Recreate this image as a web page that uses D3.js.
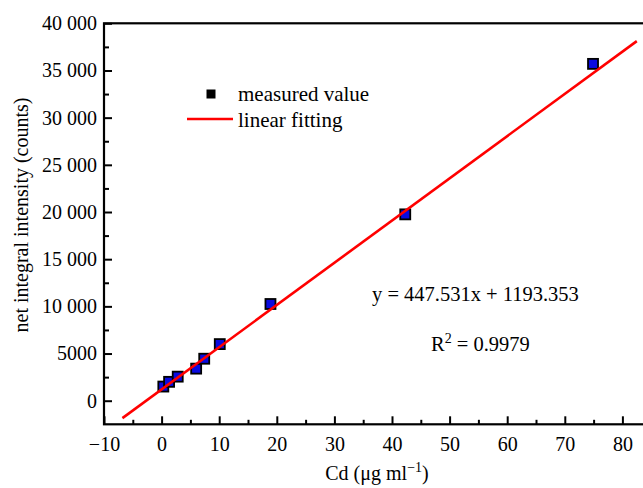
<!DOCTYPE html>
<html lang="en">
  <head>
    <meta charset="UTF-8" />
    <title>Cd calibration</title>
    <script src="https://d3js.org/d3.v7.min.js"></script>
    <style>
      body {
        margin: 0;
        padding: 0;
        background: #fff;
      }
      svg {
        display: block;
        font-family: "Liberation Serif", "DejaVu Serif", serif;
      }
    </style>
  </head>
  <body>
    <svg width="643" height="488"></svg>
    <script>
      // measured points (Cd concentration, counts)
      const concentration = [0.3, 1.3, 2.8, 6.0, 7.4, 10.1, 18.9, 42.3, 74.9];
      const intensity = [1500, 2000, 2550, 3400, 4450, 6000, 10250, 19750, 35700];

      // fitted line
      const slope = 447.531;
      const intercept = 1193.353;
      const fitRange = [-6.8, 82.5];

      const xTicks = [-10, 0, 10, 20, 30, 40, 50, 60, 70, 80];
      const yTicks = [0, 5000, 10000, 15000, 20000, 25000, 30000, 35000, 40000];

      const margin = { top: 23.3, left: 104, bottom: 424.3, right: 680 };

      const svg = d3.select("svg");
      svg.append("rect").attr("width", 643).attr("height", 488).attr("fill", "#fff");

      const x = d3.scaleLinear().domain([-10, 90]).range([margin.left, margin.right]);
      const y = d3.scaleLinear().domain([-2500, 40000]).range([margin.bottom, margin.top]);

      const fmtY = (d) => {
        if (d < 10000) return String(d);
        const s = String(d);
        return s.slice(0, s.length - 3) + " " + s.slice(-3);
      };
      const fmtX = (d) => (d < 0 ? "\u2212" + Math.abs(d) : String(d));

      // minor ticks
      svg
        .append("g")
        .attr("transform", `translate(0,${margin.bottom})`)
        .call(
          d3.axisBottom(x)
            .tickValues(d3.range(-5, 90, 10))
            .tickSize(-4.5)
            .tickFormat("")
        );
      svg
        .append("g")
        .attr("transform", `translate(${margin.left},0)`)
        .call(
          d3.axisLeft(y)
            .tickValues(d3.range(2500, 40000, 5000))
            .tickSize(-5)
            .tickFormat("")
        );

      // major ticks + labels
      svg
        .append("g")
        .attr("transform", `translate(0,${margin.bottom})`)
        .call(
          d3.axisBottom(x)
            .tickValues(xTicks)
            .tickSize(-8)
            .tickPadding(13)
            .tickFormat(fmtX)
        );
      const yAxis = svg
        .append("g")
        .attr("transform", `translate(${margin.left},0)`)
        .call(
          d3.axisLeft(y)
            .tickValues(yTicks)
            .tickSize(-8)
            .tickPadding(7)
            .tickFormat(fmtY)
        );

      svg.selectAll(".domain").remove();
      svg.selectAll(".tick line").attr("stroke", "#000").attr("stroke-width", 2);
      svg
        .selectAll(".tick text")
        .attr("fill", "#000")
        .style("font-size", "20px")
        .style("font-family", "'Liberation Serif', serif");
      yAxis.selectAll(".tick text").attr("x", -7);

      // frame
      svg
        .append("rect")
        .attr("x", margin.left)
        .attr("y", margin.top)
        .attr("width", margin.right - margin.left)
        .attr("height", margin.bottom - margin.top)
        .attr("fill", "none")
        .attr("stroke", "#000")
        .attr("stroke-width", 2.2);

      // points
      const pts = concentration.map((c, i) => ({ c: c, v: intensity[i] }));
      svg
        .selectAll(".pt")
        .data(pts)
        .enter()
        .append("rect")
        .attr("class", "pt")
        .attr("x", (d) => x(d.c) - 5)
        .attr("y", (d) => y(d.v) - 5)
        .attr("width", 10)
        .attr("height", 10)
        .attr("fill", "#0a0ae0")
        .attr("stroke", "#000")
        .attr("stroke-width", 1.8);

      // fit line, drawn over the markers
      svg
        .append("line")
        .attr("x1", x(fitRange[0]))
        .attr("y1", y(slope * fitRange[0] + intercept))
        .attr("x2", x(fitRange[1]))
        .attr("y2", y(slope * fitRange[1] + intercept))
        .attr("stroke", "#ff0000")
        .attr("stroke-width", 2.6);

      // legend
      const legend = svg.append("g").style("font-size", "21px");
      legend.append("rect").attr("x", 206.5).attr("y", 89.5).attr("width", 9).attr("height", 9).attr("fill", "#000");
      legend.append("text").attr("x", 238).attr("y", 101).text("measured value");
      legend
        .append("line")
        .attr("x1", 187)
        .attr("x2", 233)
        .attr("y1", 119)
        .attr("y2", 119)
        .attr("stroke", "#ff0000")
        .attr("stroke-width", 2.6);
      legend.append("text").attr("x", 238).attr("y", 127).text("linear fitting");

      // equation
      svg
        .append("text")
        .attr("x", 372)
        .attr("y", 301)
        .style("font-size", "20.5px")
        .text("y = 447.531x + 1193.353");
      const r2 = svg.append("text").attr("x", 431).attr("y", 351).style("font-size", "20.5px");
      r2.append("tspan").text("R");
      r2.append("tspan").attr("dy", -8).style("font-size", "14px").text("2");
      r2.append("tspan").attr("dy", 8).text(" = 0.9979");

      // axis titles
      const xt = svg
        .append("text")
        .attr("x", 377)
        .attr("y", 480)
        .attr("text-anchor", "middle")
        .style("font-size", "20px");
      xt.append("tspan").text("Cd (\u03bcg ml");
      xt.append("tspan").attr("dy", -8).style("font-size", "14px").text("\u22121");
      xt.append("tspan").attr("dy", 8).text(")");

      svg
        .append("text")
        .attr("transform", `translate(28,215) rotate(-90)`)
        .attr("text-anchor", "middle")
        .style("font-size", "20px")
        .text("net integral intensity (counts)");
    </script>
  </body>
</html>
